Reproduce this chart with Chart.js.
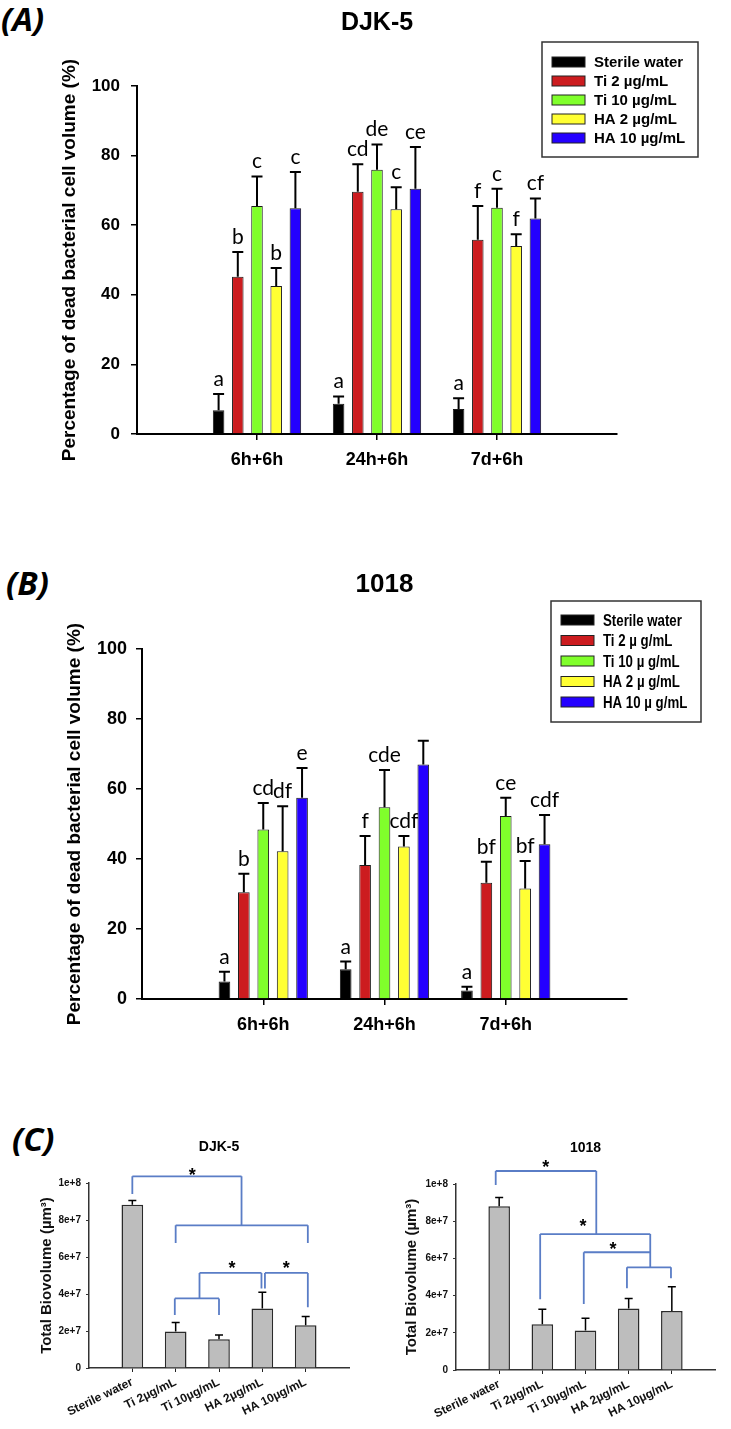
<!DOCTYPE html>
<html>
<head>
<meta charset="utf-8">
<script src="https://cdn.jsdelivr.net/npm/chart.js@4.4.1/dist/chart.umd.min.js"></script>
<style>
  body { margin: 0; background: #fff; width: 731px; height: 1429px; position: relative; overflow: hidden; }
  canvas { position: absolute; }
  .tag { position: absolute; font-family: 'Open Sans', sans-serif; font-weight: 700; font-style: italic; font-size: 33px; line-height: 1; color: #000; }
</style>
</head>
<body>
<div class="tag" style="left:1px;top:2px">(A)</div>
<div class="tag" style="left:6px;top:566px">(B)</div>
<div class="tag" style="left:12px;top:1122px">(C)</div>
<canvas id="graficoA" width="731" height="490" style="left:0;top:0"></canvas>
<canvas id="graficoB" width="731" height="510" style="left:0;top:540px"></canvas>
<canvas id="graficoC1" width="370" height="329" style="left:0;top:1100px"></canvas>
<canvas id="graficoC2" width="361" height="329" style="left:370px;top:1100px"></canvas>
<script>
// === DATOS ===
const grupos = ['', '6h+6h', '24h+6h', '7d+6h', ''];
const seriesA = ['Sterile water', 'Ti 2 µg/mL', 'Ti 10 µg/mL', 'HA 2 µg/mL', 'HA 10 µg/mL'];
const seriesB = ['Sterile water', 'Ti 2 µ g/mL', 'Ti 10 µ g/mL', 'HA 2 µ g/mL', 'HA 10 µ g/mL'];
const colores = ['#000000', '#cc1c1f', '#80ff2b', '#ffff33', '#2400ff'];
const ticksPorcentaje = [0, 20, 40, 60, 80, 100];

// (A) DJK-5: una fila por serie, una columna por grupo
const mediasA = [
  [6.8, 8.7, 7.2],
  [45.2, 69.6, 55.8],
  [65.5, 75.9, 65.0],
  [42.5, 64.6, 54.0],
  [64.9, 70.5, 61.9]
];
const desvA = [
  [4.7, 2.1, 3.1],
  [7.1, 7.9, 9.7],
  [8.5, 7.3, 5.5],
  [5.2, 6.3, 3.4],
  [10.4, 12.0, 5.8]
];
const letrasA = [
  ['a', 'a', 'a'],
  ['b', 'cd', 'f'],
  ['c', 'de', 'c'],
  ['b', 'c', 'f'],
  ['c', 'ce', 'cf']
];

// (B) 1018
const mediasB = [
  [5.0, 8.5, 2.4],
  [30.5, 38.3, 33.2],
  [48.4, 54.8, 52.3],
  [42.2, 43.6, 31.6],
  [57.5, 67.0, 44.2]
];
const desvB = [
  [2.8, 2.2, 1.1],
  [5.3, 8.3, 6.0],
  [7.6, 10.6, 5.2],
  [12.9, 3.0, 7.8],
  [8.5, 6.8, 8.4]
];
const letrasB = [
  ['a', 'a', 'a'],
  ['b', 'f', 'bf'],
  ['cd', 'cde', 'ce'],
  ['df', 'cdf', 'bf'],
  ['e', '', 'cdf']
];

// (C) biovolumen total, en millones de µm³
const tratamientos = ['', 'Sterile water', 'Ti 2µg/mL', 'Ti 10µg/mL', 'HA 2µg/mL', 'HA 10µg/mL', ''];
const ticksBiovolumen = ['0', '2e+7', '4e+7', '6e+7', '8e+7', '1e+8'];
const biovolDJK = [88.2, 19.7, 15.6, 32.1, 23.1];
const sdDJK = [2.3, 4.9, 2.3, 8.9, 4.7];
const biovol1018 = [88.0, 24.6, 21.3, 33.0, 31.7];
const sd1018 = [4.8, 8.0, 6.5, 5.5, 13.1];

// llaves de significancia: [x1, y1, x2, y2] en indice de categoria y millones
const llavesDJK = [
  [1, 94, 1, 103.6], [1, 103.6, 3.52, 103.6], [3.52, 103.6, 3.52, 77.1],
  [2, 77.1, 5.05, 77.1], [2, 77.1, 2, 67.6], [5.05, 77.1, 5.05, 67.6],
  [2.55, 51.4, 3.98, 51.4], [3.98, 51.4, 3.98, 43], [2.55, 51.4, 2.55, 37.6],
  [1.98, 37.6, 3, 37.6], [1.98, 37.6, 1.98, 28.7], [3, 37.6, 3, 28.7],
  [4.06, 51.4, 5.05, 51.4], [4.06, 51.4, 4.06, 43], [5.05, 51.4, 5.05, 32.8]
];
const estrellasDJK = [[2.38, 106], [3.3, 55.5], [4.55, 55.5]];
const llaves1018 = [
  [0.92, 99.5, 0.92, 107], [0.92, 107, 3.25, 107], [3.25, 107, 3.25, 73.1],
  [1.95, 73.1, 4.5, 73.1], [1.95, 73.1, 1.95, 38], [4.5, 73.1, 4.5, 55.2],
  [2.96, 63.3, 4.5, 63.3], [2.96, 63.3, 2.96, 35.5],
  [3.96, 55.2, 4.98, 55.2], [3.96, 55.2, 3.96, 43.9], [4.98, 55.2, 4.98, 49.3]
];
const estrellas1018 = [[2.08, 111], [2.94, 79], [3.64, 66.8]];

const ARIAL = "'Liberation Sans', Arial, sans-serif";

// === PLUGIN: barras de error, letras, titulo, leyenda, llaves ===
const decoracion = {
  id: 'decoracion',
  afterDatasetsDraw(chart, args, o) {
    const ctx = chart.ctx;
    const sx = chart.scales.x, sy = chart.scales.y;
    const area = chart.chartArea;
    ctx.save();

    // barras de error (solo hacia arriba) y letras
    (o.desv || []).forEach((fila, i) => {
      const meta = chart.getDatasetMeta(i);
      fila.forEach((sd, j) => {
        const bar = meta.data[j + 1];
        const valor = chart.data.datasets[i].data[j + 1];
        const tope = sy.getPixelForValue(valor + sd);
        ctx.strokeStyle = '#000';
        ctx.lineWidth = o.grosor;
        ctx.beginPath();
        ctx.moveTo(bar.x, bar.y);
        ctx.lineTo(bar.x, tope);
        ctx.moveTo(bar.x - o.cap, tope);
        ctx.lineTo(bar.x + o.cap, tope);
        ctx.stroke();
        if (o.letras && o.letras[i][j]) {
          ctx.fillStyle = '#000';
          ctx.font = o.fuenteLetras;
          ctx.textAlign = 'center';
          ctx.textBaseline = 'alphabetic';
          ctx.fillText(o.letras[i][j], bar.x, tope - 8);
        }
      });
    });

    // titulo centrado sobre el area del grafico
    if (o.titulo) {
      ctx.fillStyle = '#000';
      ctx.font = o.titulo.fuente;
      ctx.textAlign = 'center';
      ctx.textBaseline = 'middle';
      ctx.fillText(o.titulo.texto, (area.left + area.right) / 2, o.titulo.y);
    }

    // leyenda con recuadro
    if (o.leyenda) {
      const l = o.leyenda;
      ctx.strokeStyle = '#333';
      ctx.lineWidth = 1.5;
      ctx.strokeRect(l.x, l.y, l.w, l.h);
      chart.data.datasets.forEach((ds, i) => {
        const yf = l.fila0 + i * l.paso;
        ctx.fillStyle = ds.backgroundColor;
        ctx.fillRect(l.muestraX, yf - 5, 33, 10);
        ctx.strokeStyle = '#222';
        ctx.lineWidth = 1;
        ctx.strokeRect(l.muestraX, yf - 5, 33, 10);
        ctx.save();
        ctx.translate(l.textoX, yf + 1);
        ctx.scale(l.estirar || 1, 1);
        ctx.fillStyle = '#000';
        ctx.font = l.fuente;
        ctx.textAlign = 'left';
        ctx.textBaseline = 'middle';
        ctx.fillText(ds.label, 0, 0);
        ctx.restore();
      });
    }

    // llaves y asteriscos
    if (o.llaves) {
      ctx.strokeStyle = '#5a7dc6';
      ctx.lineWidth = 1.8;
      ctx.beginPath();
      o.llaves.forEach(([x1, y1, x2, y2]) => {
        ctx.moveTo(sx.getPixelForValue(x1), sy.getPixelForValue(y1));
        ctx.lineTo(sx.getPixelForValue(x2), sy.getPixelForValue(y2));
      });
      ctx.stroke();
      ctx.fillStyle = '#000';
      ctx.font = 'bold 18px ' + ARIAL;
      ctx.textAlign = 'center';
      ctx.textBaseline = 'middle';
      o.estrellas.forEach(([x, y]) => {
        ctx.fillText('*', sx.getPixelForValue(x), sy.getPixelForValue(y) + 4);
      });
    }
    ctx.restore();
  }
};

// === PANELES A y B ===
function panelPorcentaje(id, cfg) {
  const canvas = document.getElementById(id);
  const W = canvas.width, H = canvas.height;
  const datasets = cfg.medias.map((fila, i) => ({
    label: cfg.series[i],
    data: [null, ...fila, null],
    backgroundColor: colores[i],
    borderColor: '#1a1a1a',
    borderWidth: 1,
    categoryPercentage: 0.8,
    barPercentage: 0.6
  }));
  const ocultarExtremos = c => (c.index === 0 || c.index === grupos.length - 1) ? 'rgba(0,0,0,0)' : '#000';
  new Chart(canvas, {
    type: 'bar',
    data: { labels: grupos, datasets },
    options: {
      responsive: false,
      animation: false,
      layout: { padding: { left: 0, top: cfg.area.top, right: W - cfg.area.right, bottom: 0 } },
      plugins: {
        legend: { display: false },
        tooltip: { enabled: false },
        decoracion: {
          desv: cfg.desv, letras: cfg.letras, grosor: 2, cap: 5.5,
          fuenteLetras: '21px Lato, sans-serif',
          titulo: cfg.titulo, leyenda: cfg.leyenda
        }
      },
      scales: {
        x: {
          offset: false,
          afterFit: s => { s.height = H - cfg.area.bottom; },
          grid: { offset: false, drawOnChartArea: false, drawTicks: true, tickLength: 6, lineWidth: 1.5, color: ocultarExtremos },
          border: { display: true, color: '#000', width: 2 },
          ticks: { autoSkip: false, maxRotation: 0, padding: 9, color: '#000', font: { family: ARIAL, weight: 'bold', size: 18 } }
        },
        y: {
          min: 0, max: 100,
          afterFit: s => { s.width = cfg.area.left; },
          afterBuildTicks: s => { s.ticks = ticksPorcentaje.map(v => ({ value: v })); },
          grid: { drawOnChartArea: false, drawTicks: true, tickLength: 6, lineWidth: 1.5, color: '#000' },
          border: { display: true, color: '#000', width: 2 },
          ticks: { padding: cfg.tickPad, color: '#000', font: cfg.fuenteTicks },
          title: {
            display: true,
            text: 'Percentage of dead bacterial cell volume (%)',
            color: '#000',
            font: { family: ARIAL, weight: 'bold', size: 19 },
            padding: { top: cfg.tituloY, bottom: 0 }
          }
        }
      }
    },
    plugins: [decoracion]
  });
}

panelPorcentaje('graficoA', {
  medias: mediasA, desv: desvA, letras: letrasA, series: seriesA,
  area: { left: 137, right: 617, top: 86, bottom: 434 },
  tickPad: 11, tituloY: 58,
  fuenteTicks: { family: ARIAL, weight: 'bold', size: 17 },
  titulo: { texto: 'DJK-5', y: 23, fuente: 'bold 25px ' + ARIAL },
  leyenda: { x: 542, y: 42, w: 156, h: 115, muestraX: 552, textoX: 594, fila0: 62, paso: 19, fuente: 'bold 15px ' + ARIAL }
});

panelPorcentaje('graficoB', {
  medias: mediasB, desv: desvB, letras: letrasB, series: seriesB,
  area: { left: 142, right: 627, top: 109, bottom: 459 },
  tickPad: 9, tituloY: 63,
  fuenteTicks: { family: ARIAL, weight: 'bold', size: 18 },
  titulo: { texto: '1018', y: 45, fuente: 'bold 26px ' + ARIAL },
  leyenda: { x: 551, y: 61, w: 150, h: 121, muestraX: 561, textoX: 603, fila0: 80, paso: 20.5, fuente: 'bold 17px ' + ARIAL, estirar: 0.78 }
});

// === PANEL C ===
function panelBiovolumen(id, cfg) {
  const canvas = document.getElementById(id);
  const W = canvas.width, H = canvas.height;
  const ocultarExtremos = c => (c.index === 0 || c.index === tratamientos.length - 1) ? 'rgba(0,0,0,0)' : '#222';
  new Chart(canvas, {
    type: 'bar',
    data: {
      labels: tratamientos,
      datasets: [{
        label: cfg.titulo.texto,
        data: [null, ...cfg.valores, null],
        backgroundColor: '#bdbdbd',
        borderColor: '#2a2a2a',
        borderWidth: 1.5,
        categoryPercentage: 1,
        barPercentage: 0.5
      }]
    },
    options: {
      responsive: false,
      animation: false,
      layout: { padding: { left: 0, top: cfg.area.top, right: W - cfg.area.right, bottom: 0 } },
      plugins: {
        legend: { display: false },
        tooltip: { enabled: false },
        decoracion: {
          desv: [cfg.sd], grosor: 1.5, cap: 4,
          titulo: cfg.titulo, llaves: cfg.llaves, estrellas: cfg.estrellas
        }
      },
      scales: {
        x: {
          offset: false,
          afterFit: s => { s.height = H - cfg.area.bottom; },
          grid: { offset: false, drawOnChartArea: false, drawTicks: true, tickLength: 4, lineWidth: 1, color: ocultarExtremos },
          border: { display: true, color: '#333', width: 1.5 },
          ticks: { autoSkip: false, minRotation: 26, maxRotation: 26, padding: 3, color: '#111', font: { family: ARIAL, weight: 'bold', size: 12 } }
        },
        y: {
          min: 0, max: 100,
          afterFit: s => { s.width = cfg.area.left; },
          afterBuildTicks: s => { s.ticks = ticksBiovolumen.map((t, i) => ({ value: i * 20 })); },
          grid: { drawOnChartArea: false, drawTicks: true, tickLength: 3, lineWidth: 1, color: '#333' },
          border: { display: true, color: '#333', width: 1.5 },
          ticks: { padding: 5, color: '#111', font: { family: ARIAL, weight: 'bold', size: 10 }, callback: (v, i) => ticksBiovolumen[i] },
          title: {
            display: true,
            text: 'Total Biovolume (µm³)',
            color: '#111',
            font: { family: ARIAL, weight: 'bold', size: 15 },
            padding: { top: cfg.tituloY, bottom: 0 }
          }
        }
      }
    },
    plugins: [decoracion]
  });
}

panelBiovolumen('graficoC1', {
  valores: biovolDJK, sd: sdDJK, llaves: llavesDJK, estrellas: estrellasDJK,
  area: { left: 89, right: 349, top: 83, bottom: 268 },
  tituloY: 38,
  titulo: { texto: 'DJK-5', y: 47, fuente: 'bold 14px ' + ARIAL }
});

panelBiovolumen('graficoC2', {
  valores: biovol1018, sd: sd1018, llaves: llaves1018, estrellas: estrellas1018,
  area: { left: 86, right: 345, top: 84, bottom: 270 },
  tituloY: 33,
  titulo: { texto: '1018', y: 48, fuente: 'bold 14px ' + ARIAL }
});
</script>
</body>
</html>
